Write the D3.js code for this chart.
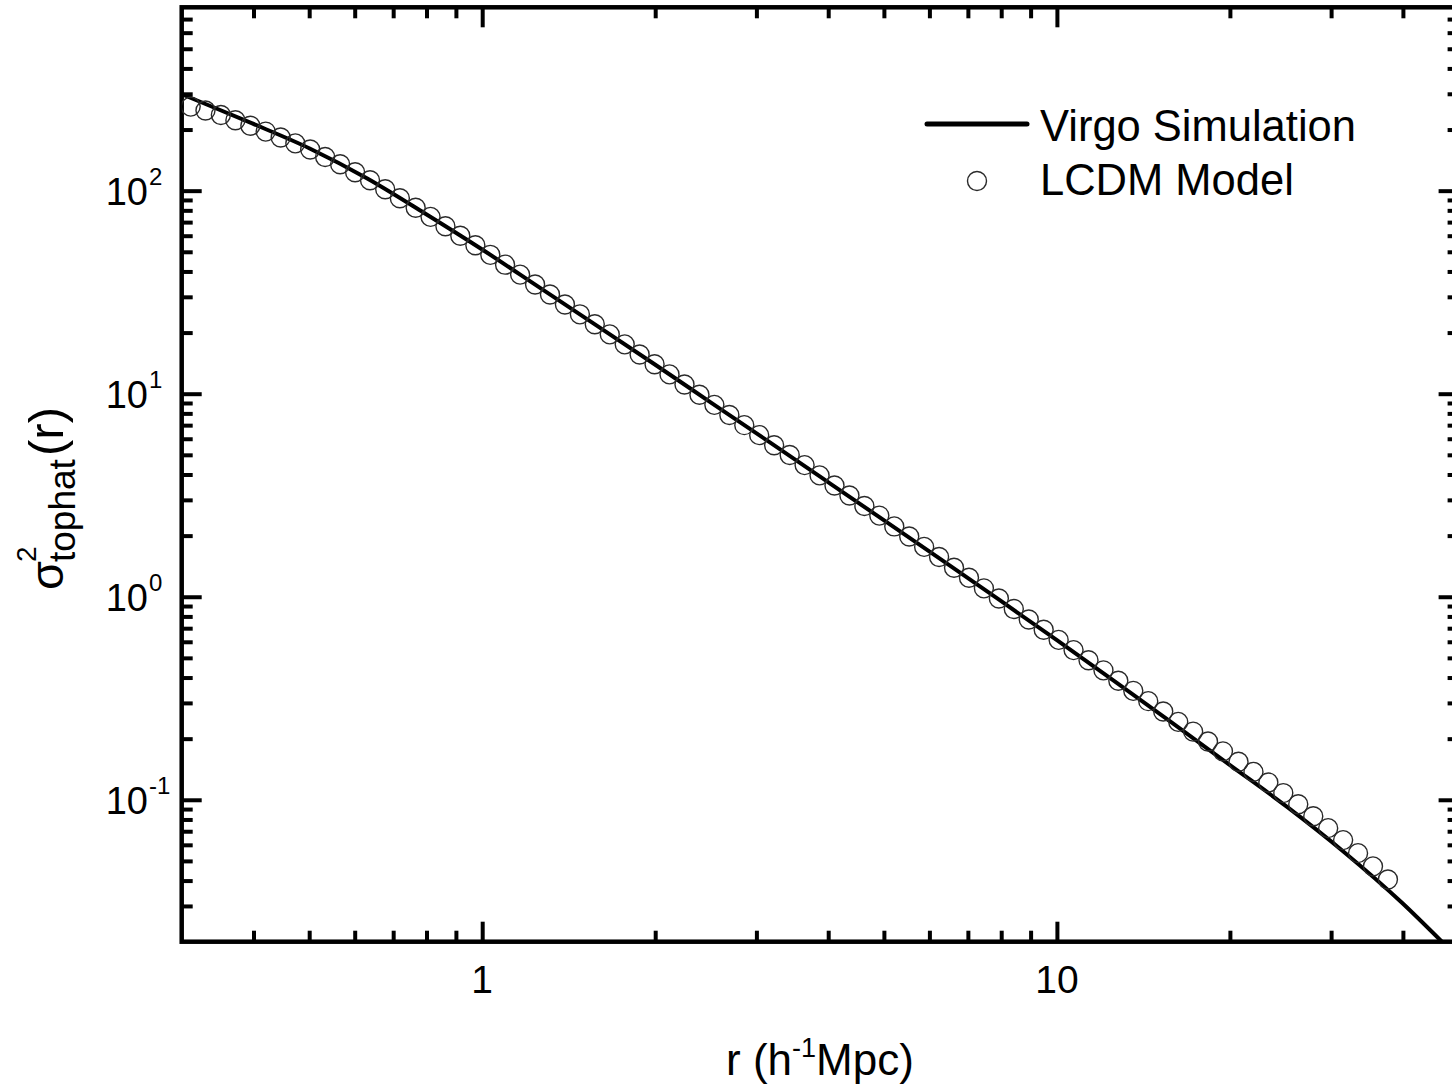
<!DOCTYPE html>
<html>
<head>
<meta charset="utf-8">
<script src="https://cdn.jsdelivr.net/npm/d3@7"></script>
<style>
  html, body { margin: 0; padding: 0; background: #fff; }
  svg { display: block; }
  text { font-family: "Liberation Sans", Arial, sans-serif; fill: #000; }
</style>
</head>
<body>
<svg id="chart" width="1452" height="1084"></svg>
<script>
// ---- Data ----
const virgoR = [0.30, 0.316, 0.398, 0.501, 0.631, 0.794, 1.0, 1.259, 1.585, 1.995, 2.512, 3.162,
                3.981, 5.012, 6.310, 7.943, 10.0, 12.59, 15.85, 19.95, 25.12, 31.62, 39.81, 46.77];
const virgoS = [299, 281.2, 214.3, 161.4, 114.8, 77.4, 51.3, 33.3, 21.6, 13.96, 8.97, 5.77,
                3.70, 2.37, 1.514, 0.964, 0.611, 0.384, 0.240, 0.149, 0.0925, 0.0552, 0.0312, 0.0200];

const lcdmR = [0.311, 0.330, 0.351, 0.372, 0.395, 0.420, 0.446, 0.473, 0.502, 0.533,
               0.566, 0.601, 0.638, 0.678, 0.719, 0.766, 0.813, 0.863, 0.916, 0.973,
               1.033, 1.096, 1.164, 1.236, 1.312, 1.393, 1.479, 1.570, 1.667, 1.770,
               1.879, 1.995, 2.118, 2.249, 2.388, 2.535, 2.692, 2.858, 3.034, 3.221,
               3.428, 3.639, 3.864, 4.102, 4.355, 4.624, 4.909, 5.212, 5.534, 5.875,
               6.237, 6.622, 7.031, 7.464, 7.925, 8.414, 8.933, 9.484, 10.07, 10.69,
               11.35, 12.05, 12.79, 13.58, 14.42, 15.31, 16.26, 17.26, 18.32, 19.45,
               20.70, 21.98, 23.33, 24.77, 26.30, 27.93, 29.65, 31.48, 33.42, 35.48, 37.67];
const lcdmS = [259.4, 248.3, 236.0, 222.3, 208.9, 195.4, 182.8, 171.0, 159.6, 146.6,
               134.9, 123.3, 112.5, 101.6, 91.8, 82.4, 74.3, 66.8, 60.0, 53.8,
               48.3, 43.2, 38.6, 34.5, 30.8, 27.5, 24.6, 22.0, 19.6, 17.5,
               15.6, 13.96, 12.45, 11.10, 9.89, 8.81, 7.86, 7.00, 6.25, 5.57,
               4.99, 4.45, 3.96, 3.53, 3.15, 2.80, 2.51, 2.22, 1.98, 1.76,
               1.57, 1.39, 1.24, 1.10, 0.980, 0.870, 0.773, 0.688, 0.613, 0.546,
               0.487, 0.434, 0.386, 0.344, 0.306, 0.272, 0.242, 0.2167, 0.1937, 0.1732,
               0.1539, 0.1372, 0.1217, 0.1079, 0.0950, 0.0830, 0.0725, 0.0633, 0.0546, 0.0470, 0.0405];

const xDomain = [0.3, 50];
const yDomain = [0.02, 800];
const xMajor = [1, 10];
const xMajorLabels = ["1", "10"];
const xMinor = [0.4, 0.5, 0.6, 0.7, 0.8, 0.9, 2, 3, 4, 5, 6, 7, 8, 9, 20, 30, 40];
const yMajor = [0.1, 1, 10, 100];
const yMajorExp = ["-1", "0", "1", "2"];
const yMinor = [0.03, 0.04, 0.05, 0.06, 0.07, 0.08, 0.09,
                0.2, 0.3, 0.4, 0.5, 0.6, 0.7, 0.8, 0.9,
                2, 3, 4, 5, 6, 7, 8, 9,
                20, 30, 40, 50, 60, 70, 80, 90,
                200, 300, 400, 500, 600, 700];
const legendNames = ["Virgo Simulation", "LCDM Model"];

// ---- Layout ----
const svg = d3.select("#chart");
const pL = 181.7, pR = 1458.6, pT = 7.3, pB = 941.7;
const x = d3.scaleLog().domain(xDomain).range([pL, pR]);
const y = d3.scaleLog().domain(yDomain).range([pB, pT]);

const majorLen = 20, minorLen = 11, tickW = 4;

svg.append("defs").append("clipPath").attr("id", "plotclip")
  .append("rect").attr("x", pL).attr("y", pT).attr("width", pR - pL).attr("height", pB - pT);

function styleAxis(g) {
  g.select(".domain").remove();
  g.selectAll(".tick line").attr("stroke", "#000").attr("stroke-width", tickW);
  g.selectAll(".tick text").remove();
}

// bottom
svg.append("g").attr("transform", `translate(0,${pB})`)
  .call(d3.axisBottom(x).tickValues(xMajor).tickSize(-majorLen).tickFormat("")).call(styleAxis);
svg.append("g").attr("transform", `translate(0,${pB})`)
  .call(d3.axisBottom(x).tickValues(xMinor).tickSize(-minorLen).tickFormat("")).call(styleAxis);
// top
svg.append("g").attr("transform", `translate(0,${pT})`)
  .call(d3.axisTop(x).tickValues(xMajor).tickSize(-majorLen).tickFormat("")).call(styleAxis);
svg.append("g").attr("transform", `translate(0,${pT})`)
  .call(d3.axisTop(x).tickValues(xMinor).tickSize(-minorLen).tickFormat("")).call(styleAxis);
// left
svg.append("g").attr("transform", `translate(${pL},0)`)
  .call(d3.axisLeft(y).tickValues(yMajor).tickSize(-majorLen).tickFormat("")).call(styleAxis);
svg.append("g").attr("transform", `translate(${pL},0)`)
  .call(d3.axisLeft(y).tickValues(yMinor).tickSize(-minorLen).tickFormat("")).call(styleAxis);
// right
svg.append("g").attr("transform", `translate(${pR},0)`)
  .call(d3.axisRight(y).tickValues(yMajor).tickSize(-majorLen).tickFormat("")).call(styleAxis);
svg.append("g").attr("transform", `translate(${pR},0)`)
  .call(d3.axisRight(y).tickValues(yMinor).tickSize(-minorLen).tickFormat("")).call(styleAxis);

// frame
svg.append("rect").attr("x", pL).attr("y", pT).attr("width", pR - pL).attr("height", pB - pT)
  .attr("fill", "none").attr("stroke", "#000").attr("stroke-width", 4.5);

// x tick labels
svg.selectAll("text.xlab").data(xMajor).enter().append("text")
  .attr("class", "xlab")
  .attr("x", d => x(d)).attr("y", 993)
  .attr("text-anchor", "middle").attr("font-size", 39)
  .text((d, i) => xMajorLabels[i]);

// y tick labels 10^n
const yl = svg.selectAll("g.ylab").data(yMajor).enter().append("g").attr("class", "ylab");
yl.append("text").attr("x", 148).attr("y", d => y(d) + 14)
  .attr("text-anchor", "end").attr("font-size", 38).text("10");
yl.append("text").attr("x", 149).attr("y", d => y(d) - 6)
  .attr("font-size", 24).text((d, i) => yMajorExp[i]);

// data: line
const line = d3.line().x(d => x(d[0])).y(d => y(d[1])).curve(d3.curveMonotoneX);
svg.append("path")
  .datum(virgoR.map((r, i) => [r, virgoS[i]]))
  .attr("clip-path", "url(#plotclip)")
  .attr("d", line).attr("fill", "none").attr("stroke", "#000").attr("stroke-width", 4);

// data: circles
svg.append("g").attr("clip-path", "url(#plotclip)")
  .selectAll("circle").data(lcdmR.map((r, i) => [r, lcdmS[i]])).enter().append("circle")
  .attr("cx", d => x(d[0])).attr("cy", d => y(d[1])).attr("r", 9.5)
  .attr("fill", "none").attr("stroke", "#2a2a2a").attr("stroke-width", 1.4);

// legend
const lg = svg.append("g");
lg.append("line").attr("x1", 927).attr("x2", 1027).attr("y1", 124).attr("y2", 124)
  .attr("stroke", "#000").attr("stroke-width", 5).attr("stroke-linecap", "round");
lg.append("circle").attr("cx", 977).attr("cy", 181).attr("r", 9.5)
  .attr("fill", "none").attr("stroke", "#2a2a2a").attr("stroke-width", 1.4);
lg.append("text").attr("x", 1040).attr("y", 141).attr("font-size", 43.5).text(legendNames[0]);
lg.append("text").attr("x", 1040).attr("y", 195).attr("font-size", 43.5).text(legendNames[1]);

// x axis title: r (h^-1 Mpc)
const xt = svg.append("text").attr("x", 820).attr("y", 1075).attr("text-anchor", "middle").attr("font-size", 44);
xt.append("tspan").text("r (h");
xt.append("tspan").attr("font-size", 27).attr("dy", -18).text("-1");
xt.append("tspan").attr("dy", 18).text("Mpc)");

// y axis title: sigma^2_tophat(r)
const yt = svg.append("g").attr("transform", "translate(63,590) rotate(-90)");
yt.append("text").attr("x", 0).attr("y", 0).attr("font-size", 47).text("σ");
yt.append("text").attr("x", 28).attr("y", -27).attr("font-size", 28).text("2");
yt.append("text").attr("x", 28).attr("y", 12).attr("font-size", 37).text("tophat");
yt.append("text").attr("x", 134).attr("y", 0).attr("font-size", 49).text("(r)");
</script>
</body>
</html>
